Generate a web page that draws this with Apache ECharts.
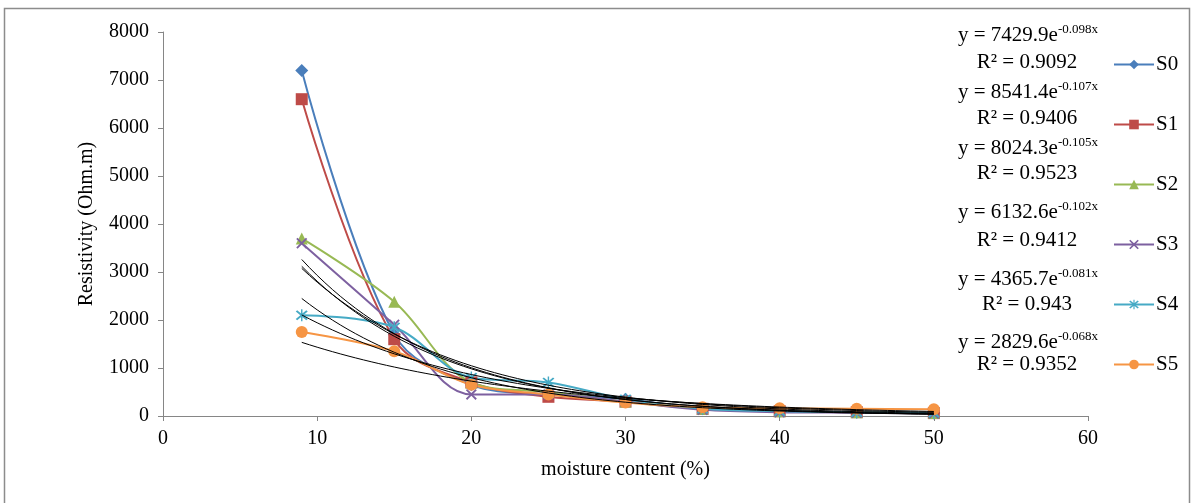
<!DOCTYPE html>
<html>
<head>
<meta charset="utf-8">
<script src="https://cdn.jsdelivr.net/npm/echarts@6/dist/echarts.min.js"></script>
<style>
  html, body { margin: 0; padding: 0; background: #fff; }
  #chart { width: 1195px; height: 503px; }
</style>
</head>
<body>
<div id="chart"></div>
<script>
// moisture content (%) at each measurement
var moisture = [9, 15, 20, 25, 30, 35, 40, 45, 50];

// resistivity
var s0 = [7200, 1700, 650, 450, 350, 150, 100, 80, 60];
var s1 = [6600, 1600, 700, 400, 300, 150, 100, 80, 60];
var s2 = [3700, 2380, 700, 500, 300, 150, 100, 80, 60];
var s3 = [3600, 1900, 450, 450, 300, 130, 80, 70, 50];
var s4 = [2100, 1850, 800, 700, 350, 150, 100, 80, 70];
var s5 = [1750, 1350, 650, 450, 280, 180, 160, 150, 140];

var names = ["S0", "S1", "S2", "S3", "S4", "S5"];
var colors = ["#4A7EBB", "#BE4B48", "#98B954", "#7D60A0", "#46AAC5", "#F69544"];

// exponential trendline coefficients, as printed on the chart
var trendA = [7429.9, 8541.4, 8024.3, 6132.6, 4365.7, 2829.6];
var trendB = [-0.098, -0.107, -0.105, -0.102, -0.081, -0.068];
var trendR2 = ["0.9092", "0.9406", "0.9523", "0.9412", "0.943", "0.9352"];

var allData = [s0, s1, s2, s3, s4, s5];

var xMark = "path://M0,1.2 L1.2,0 L5,3.8 L8.8,0 L10,1.2 L6.2,5 L10,8.8 L8.8,10 L5,6.2 L1.2,10 L0,8.8 L3.8,5 Z";
var star = "path://M0,1.2 L1.2,0 L5,3.8 L8.8,0 L10,1.2 L6.2,5 L10,8.8 L8.8,10 L5,6.2 L1.2,10 L0,8.8 L3.8,5 Z M4.4,-1 L5.6,-1 L5.6,11 L4.4,11 Z";
var symbols = ["diamond", "rect", "triangle", xMark, star, "circle"];
var symSize = [13, 12, 12, 11, 12, 12];

const chart = echarts.init(document.getElementById("chart"));

var series = [];
for (var i = 0; i < 6; i++) {
  var pts = [];
  for (var j = 0; j < moisture.length; j++) {
    pts.push([moisture[j], allData[i][j]]);
  }
  series.push({
    name: names[i],
    type: "line",
    data: pts,
    smooth: 0.35,
    symbol: symbols[i],
    symbolSize: symSize[i],
    lineStyle: { color: colors[i], width: 2 },
    itemStyle: { color: colors[i] },
    z: 3
  });
}

// trendlines y = a*e^(b*x), drawn from 9 to 50
for (var i = 0; i < 6; i++) {
  var tpts = [];
  for (var x = 9; x <= 50.001; x += 0.5) {
    tpts.push([x, trendA[i] * Math.exp(trendB[i] * x)]);
  }
  series.push({
    name: "trend" + i,
    type: "line",
    data: tpts,
    showSymbol: false,
    symbol: "none",
    lineStyle: { color: "#000", width: 1 },
    silent: true,
    z: 4
  });
}

// equation labels
var eqY = [35, 92, 148, 212, 279, 342];
var r2Y = [62, 118, 173, 240, 304, 364];
var serif = "Liberation Serif";
var graphics = [{
  type: "rect",
  shape: { x: 4.5, y: 8.5, width: 1185, height: 500 },
  style: { fill: null, stroke: "#8c8c8c", lineWidth: 1.5 }
}];
for (var i = 0; i < 6; i++) {
  graphics.push({
    type: "text",
    x: 1028,
    y: eqY[i],
    style: {
      text: "{b|y = " + trendA[i].toFixed(1) + "e}{s|" + trendB[i].toFixed(3) + "x}",
      align: "center",
      verticalAlign: "middle",
      rich: {
        b: { fontFamily: serif, fontSize: 21, fill: "#000" },
        s: { fontFamily: serif, fontSize: 13, fill: "#000", padding: [0, 0, 10, 0] }
      }
    }
  });
  graphics.push({
    type: "text",
    x: 1027,
    y: r2Y[i],
    style: {
      text: "R² = " + trendR2[i],
      align: "center",
      verticalAlign: "middle",
      fontFamily: serif,
      fontSize: 21,
      fill: "#000"
    }
  });
}

var option = {
  animation: false,
  grid: { left: 163, right: 107, top: 32, bottom: 87 },
  legend: {
    data: names,
    orient: "vertical",
    left: 1108,
    top: 49,
    itemGap: 39,
    itemWidth: 40,
    itemHeight: 12,
    textStyle: { fontFamily: serif, fontSize: 21, lineHeight: 20, color: "#000", padding: [0, 0, 0, -3] }
  },
  xAxis: {
    type: "value",
    min: 0,
    max: 60,
    interval: 10,
    name: "moisture content (%)",
    nameLocation: "middle",
    nameGap: 44,
    nameTextStyle: { fontFamily: serif, fontSize: 20, color: "#000" },
    axisLine: { lineStyle: { color: "#868686" } },
    axisTick: { length: 5, lineStyle: { color: "#868686" } },
    axisLabel: { fontFamily: serif, fontSize: 20, color: "#000", margin: 13 },
    splitLine: { show: false }
  },
  yAxis: {
    type: "value",
    min: 0,
    max: 8000,
    interval: 1000,
    name: "Resistivity (Ohm.m)",
    nameLocation: "middle",
    nameGap: 66,
    nameTextStyle: { fontFamily: serif, fontSize: 20, color: "#000" },
    axisLine: { show: true, lineStyle: { color: "#868686" } },
    axisTick: { show: true, length: 5, lineStyle: { color: "#868686" } },
    axisLabel: {
      fontFamily: serif, fontSize: 20, color: "#000", margin: 14,
      formatter: function (v) { return String(v); }
    },
    splitLine: { show: false }
  },
  graphic: graphics,
  series: series
};
chart.setOption(option);
</script>
</body>
</html>
